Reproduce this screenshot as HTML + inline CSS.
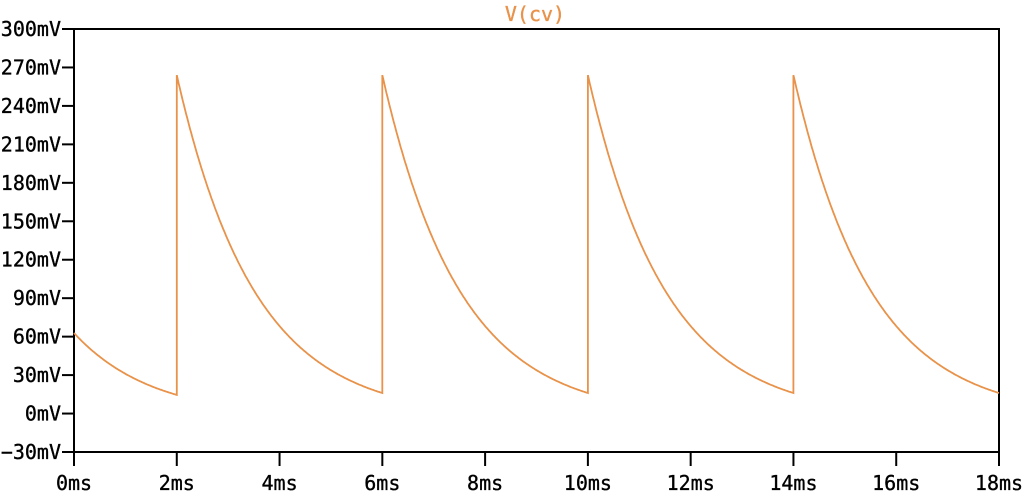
<!DOCTYPE html>
<html><head><meta charset="utf-8"><style>
html,body{margin:0;padding:0;background:#fff;width:1024px;height:496px;overflow:hidden}
text{font-family:"DejaVu Sans Mono","Liberation Mono",monospace;font-size:20px;fill:#000;stroke:#000;stroke-width:0.35}
</style></head><body>
<svg id="s" width="1024" height="496" xmlns="http://www.w3.org/2000/svg">
<text x="535" y="21" text-anchor="middle" style="fill:#e8924a;stroke:#e8924a">V(cv)</text>
<rect x="74" y="29" width="925" height="423" fill="none" stroke="#000" stroke-width="2"/>
<g id="ax" stroke="#000" stroke-width="2"></g>
<g id="lb"></g>
<path id="p" fill="none" stroke="#e8924a" stroke-width="1.8"/>
</svg>
<script>
var L=74,R=999,T=29,B=452;
function X(t){return L+(R-L)*t/18}
function Y(v){return T+(B-T)*(300-v)/330}
var ax=document.getElementById('ax'),lb=document.getElementById('lb'),ns='http://www.w3.org/2000/svg';
function el(p,n,a,txt){var e=document.createElementNS(ns,n);for(var k in a)e.setAttribute(k,a[k]);if(txt)e.textContent=txt;p.appendChild(e)}
for(var v=-30;v<=300;v+=30){var y=Y(v);el(ax,'line',{x1:62,x2:74,y1:y,y2:y});el(lb,'text',{x:61,y:y+7,'text-anchor':'end'},(v<0?'\u2212'+(-v):v)+'mV')}
for(var t=0;t<=18;t+=2){var x=X(t);el(ax,'line',{x1:x,x2:x,y1:452,y2:466});el(lb,'text',{x:x,y:490,'text-anchor':'middle'},t+'ms')}
function f(s){return -3+267*Math.exp(-s/1.514)}
var d='';
for(var t=0;t<=2.0001;t+=0.02){d+=(d?'L':'M')+X(t).toFixed(1)+','+Y(f(t+2.12)).toFixed(1)}
for(var c=0;c<4;c++){var t0=2+4*c;for(var s=0;s<=4.0001;s+=0.02){d+='L'+X(t0+s).toFixed(1)+','+Y(f(s)).toFixed(1)}}
document.getElementById('p').setAttribute('d',d);
</script>
</body></html>
